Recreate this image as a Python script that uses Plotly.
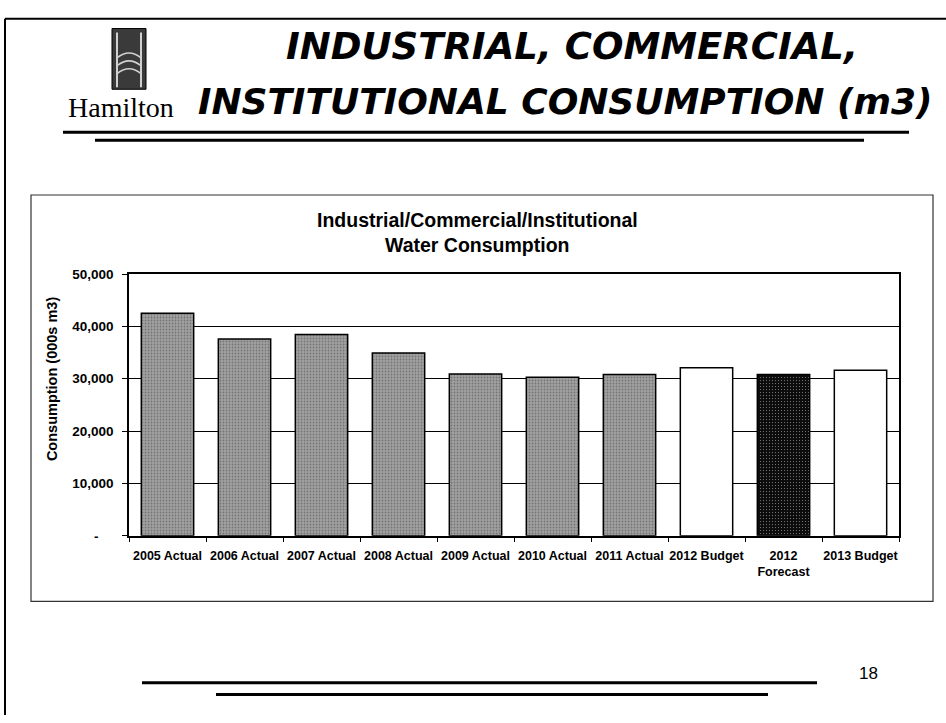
import plotly.graph_objects as go

categories = ["2005 Actual", "2006 Actual", "2007 Actual", "2008 Actual", "2009 Actual",
              "2010 Actual", "2011 Actual", "2012 Budget", "2012<br>Forecast", "2013 Budget"]
values = [42500, 37600, 38450, 34900, 30900, 30300, 30800, 32100, 30800, 31600]
kinds = ["actual"] * 7 + ["budget", "forecast", "budget"]
ytick_vals = [0, 10000, 20000, 30000, 40000, 50000]
ytick_text = ["-\u00a0\u00a0\u00a0\u00a0", "10,000", "20,000", "30,000", "40,000", "50,000"]

W, H = 946, 723
def px(x): return x / W
def py(y): return 1 - y / H

fill = {"actual": "#a2a2a2", "budget": "#ffffff", "forecast": "#0c0c0c"}
pat_fg = {"actual": "#6a6a6a", "budget": "#ffffff", "forecast": "#5a5a5a"}
pat_shape = {"actual": ".", "budget": "", "forecast": "."}
pat_sol = {"actual": 0.3, "budget": 0.3, "forecast": 0.12}

fig = go.Figure()
fig.add_trace(go.Bar(
    x=categories, y=values,
    marker=dict(
        color=[fill[k] for k in kinds],
        line=dict(color="black", width=1.5),
        pattern=dict(shape=[pat_shape[k] for k in kinds], size=3,
                     solidity=[pat_sol[k] for k in kinds],
                     fgcolor=[pat_fg[k] for k in kinds],
                     bgcolor=[fill[k] for k in kinds]),
    ),
    showlegend=False,
))

font_b = "Liberation Sans"
fig.update_layout(
    width=W, height=H,
    margin=dict(l=0, r=0, t=0, b=0),
    paper_bgcolor="white", plot_bgcolor="white",
    bargap=0.32,
    xaxis=dict(domain=[px(129), px(899)], showline=True, linecolor="black", linewidth=1.5,
               mirror=True, ticks="outside", ticklen=4, tickcolor="black",
               tickson="boundaries", showgrid=False, tickangle=0, ticklabelstandoff=7,
               tickfont=dict(family=font_b, size=12.5, color="black", weight="bold")),
    yaxis=dict(domain=[py(540), py(272.7)], range=[0, 50000], showline=True,
               linecolor="black", linewidth=1.5, mirror=True,
               tickvals=ytick_vals, ticktext=ytick_text, ticks="outside", ticklen=5,
               ticklabelstandoff=6,
               tickcolor="black", showgrid=True, gridcolor="black", gridwidth=1.2,
               tickfont=dict(family=font_b, size=13.5, color="black", weight="bold")),
)

shapes = []
# page border lines
shapes.append(dict(type="line", xref="paper", yref="paper", x0=px(5), x1=1, y0=py(12), y1=py(12),
                   line=dict(color="black", width=2)))
shapes.append(dict(type="line", xref="paper", yref="paper", x0=px(5), x1=px(5), y0=py(12), y1=0,
                   line=dict(color="black", width=2)))
# header rules
shapes.append(dict(type="line", xref="paper", yref="paper", x0=px(63), x1=px(909), y0=py(128), y1=py(128),
                   line=dict(color="black", width=3)))
shapes.append(dict(type="line", xref="paper", yref="paper", x0=px(95), x1=px(864), y0=py(136), y1=py(136),
                   line=dict(color="black", width=3)))
# footer rules
shapes.append(dict(type="line", xref="paper", yref="paper", x0=px(142), x1=px(817), y0=py(690), y1=py(690),
                   line=dict(color="black", width=3)))
shapes.append(dict(type="line", xref="paper", yref="paper", x0=px(216), x1=px(768), y0=py(702), y1=py(702),
                   line=dict(color="black", width=3)))
# chart frame
shapes.append(dict(type="rect", xref="paper", yref="paper", x0=px(31), x1=px(933), y0=py(607), y1=py(192),
                   line=dict(color="#333333", width=1.2)))
# logo
shapes.append(dict(type="rect", xref="paper", yref="paper", x0=px(112), x1=px(146), y0=py(84), y1=py(22),
                   line=dict(color="black", width=1), fillcolor="#3a3a3a"))
for xx in [117, 141]:
    shapes.append(dict(type="line", xref="paper", yref="paper", x0=px(xx), x1=px(xx), y0=py(82), y1=py(26),
                       line=dict(color="#d0d0d0", width=2)))
for yy in [46, 54, 62]:
    shapes.append(dict(type="path", xref="paper", yref="paper",
                       path=f"M {px(117)},{py(yy+6)} Q {px(129)},{py(yy-4)} {px(141)},{py(yy+6)}",
                       line=dict(color="#d0d0d0", width=1.5)))
fig.update_layout(shapes=shapes)

ann = []
ann.append(dict(text="Hamilton", x=px(121), y=py(103), xref="paper", yref="paper", showarrow=False,
                font=dict(family="Liberation Serif", size=28, color="black"), xanchor="center", yanchor="middle"))
ann.append(dict(text="<b><i>INDUSTRIAL, COMMERCIAL,</i></b>", x=px(572), y=py(40), xref="paper", yref="paper",
                showarrow=False, font=dict(family="DejaVu Sans", size=37, color="black"),
                xanchor="center", yanchor="middle"))
ann.append(dict(text="<b><i>INSTITUTIONAL CONSUMPTION (m3)</i></b>", x=px(565), y=py(96), xref="paper",
                yref="paper", showarrow=False, font=dict(family="DejaVu Sans", size=36, color="black"),
                xanchor="center", yanchor="middle"))
ann.append(dict(text="<b>Industrial/Commercial/Institutional</b>", x=px(477), y=py(218),
                xref="paper", yref="paper", showarrow=False,
                font=dict(family=font_b, size=19.5, color="black"), xanchor="center", yanchor="middle"))
ann.append(dict(text="<b>Water Consumption</b>", x=px(477), y=py(243),
                xref="paper", yref="paper", showarrow=False,
                font=dict(family=font_b, size=19.5, color="black"), xanchor="center", yanchor="middle"))
ann.append(dict(text="<b>Consumption (000s m3)</b>", x=px(52), y=py(380), xref="paper", yref="paper",
                showarrow=False, textangle=-90, font=dict(family=font_b, size=14.5, color="black"),
                xanchor="center", yanchor="middle"))
ann.append(dict(text="18", x=px(868), y=py(681), xref="paper", yref="paper", showarrow=False,
                font=dict(family="Liberation Sans", size=17, color="black"), xanchor="center", yanchor="middle"))
fig.update_layout(annotations=ann)

fig.write_html("out.html", config={"displayModeBar": False},
               post_script="document.body.style.margin='0';document.body.style.overflow='hidden';")
